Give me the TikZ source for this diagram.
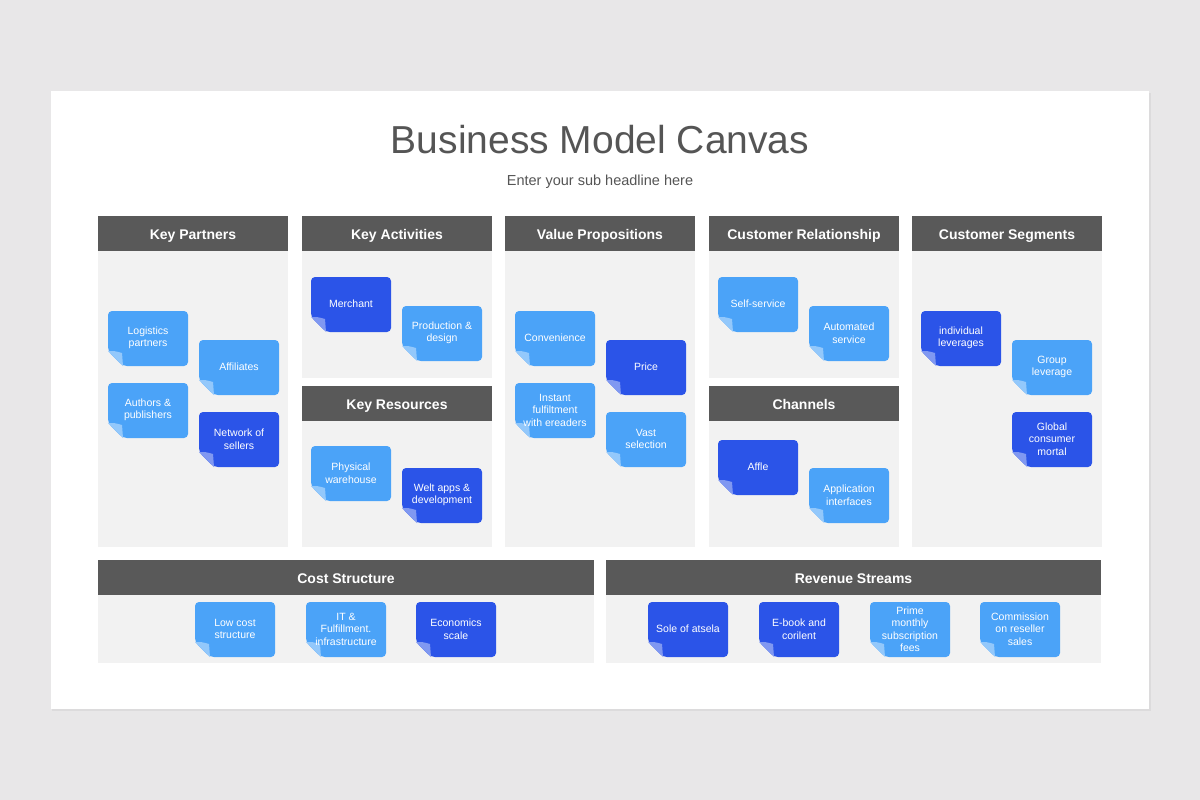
\documentclass[tikz,border=0pt]{standalone}
\usepackage{fontspec}
\setmainfont{Liberation Sans}
\usetikzlibrary{positioning}
\definecolor{pagegray}{HTML}{E8E7E8}
\definecolor{shadowgray}{HTML}{DCDBDC}
\definecolor{headgray}{HTML}{595959}
\definecolor{panelgray}{HTML}{F2F2F2}
\definecolor{titlegray}{HTML}{555555}
\definecolor{lightnote}{HTML}{4BA3F8}
\definecolor{darknote}{HTML}{2B54E8}
\newcommand{\stickynote}[4]{%
	\begin{scope}[shift={(#2)}]
		\fill[#3,rounded corners=4pt] (15,55) -- (80,55) -- (80,0) -- (0,0) -- (0,40) -- cycle;
		\fill[#3!60!white] (0,40) .. controls (7,40) .. (14,42) -- (15,55) -- cycle;
		\node[note] (#1) at (40,27) {#4};
	\end{scope}}

\begin{document}
\begin{tikzpicture}[x=1pt,y=-1pt,
	header/.style={fill=headgray,text=white,font=\fontsize{14}{16}\selectfont\bfseries,minimum width=190pt,minimum height=35pt,text height=12pt,text depth=1pt,inner sep=0pt,outer sep=0pt,anchor=north west},
	panel/.style={fill=panelgray,minimum width=190pt,inner sep=0pt,outer sep=0pt},
	note/.style={text=white,font=\fontsize{10.5}{12.5}\selectfont,align=center,inner sep=0pt}]
	\fill[pagegray] (0,0) rectangle (1200,800);
	\fill[shadowgray] (52,93) rectangle (1151,711);
	\fill[white] (51,91) rectangle (1149,709);
	\node[text=titlegray,font=\fontsize{39}{46}\selectfont] (title) at (600,140) {Business Model Canvas};
	\node[text=titlegray,font=\fontsize{14.5}{17}\selectfont] (subtitle) at (600,182) {Enter your sub headline here};

	\node[header] (kph) at (98,216) {Key Partners};
	\node[header] (kah) at (302,216) {Key Activities};
	\node[header] (vph) at (505,216) {Value Propositions};
	\node[header] (crh) at (709,216) {Customer Relationship};
	\node[header] (csh) at (912,216) {Customer Segments};
	\node[panel,below=0pt of kph,minimum height=296pt] (kp) {};
	\node[panel,below=0pt of kah,minimum height=127pt] (ka) {};
	\node[panel,below=0pt of vph,minimum height=296pt] (vp) {};
	\node[panel,below=0pt of crh,minimum height=127pt] (cr) {};
	\node[panel,below=0pt of csh,minimum height=296pt] (cs) {};
	\node[header] (krh) at (302,386) {Key Resources};
	\node[header] (chh) at (709,386) {Channels};
	\node[panel,below=0pt of krh,minimum height=126pt] (kr) {};
	\node[panel,below=0pt of chh,minimum height=126pt] (ch) {};
	\node[header,minimum width=496pt] (cost) at (98,560) {Cost Structure};
	\node[header,minimum width=495pt] (rev) at (606,560) {Revenue Streams};
	\node[panel,below=0pt of cost,minimum width=496pt,minimum height=68pt] (costp) {};
	\node[panel,below=0pt of rev,minimum width=495pt,minimum height=68pt] (revp) {};

	\stickynote{logistics}{108,311}{lightnote}{Logistics\\partners}
	\stickynote{affiliates}{199,340}{lightnote}{Affiliates}
	\stickynote{authors}{108,383}{lightnote}{Authors \&\\publishers}
	\stickynote{network}{199,412}{darknote}{Network of\\sellers}
	\stickynote{merchant}{311,277}{darknote}{Merchant}
	\stickynote{production}{402,306}{lightnote}{Production \&\\design}
	\stickynote{physical}{311,446}{lightnote}{Physical\\warehouse}
	\stickynote{weltapps}{402,468}{darknote}{Welt apps \&\\development}
	\stickynote{convenience}{515,311}{lightnote}{Convenience}
	\stickynote{price}{606,340}{darknote}{Price}
	\stickynote{instant}{515,383}{lightnote}{Instant\\fulfiltment\\with ereaders}
	\stickynote{vast}{606,412}{lightnote}{Vast\\selection}
	\stickynote{selfservice}{718,277}{lightnote}{Self-service}
	\stickynote{automated}{809,306}{lightnote}{Automated\\service}
	\stickynote{affle}{718,440}{darknote}{Affle}
	\stickynote{application}{809,468}{lightnote}{Application\\interfaces}
	\stickynote{individual}{921,311}{darknote}{individual\\leverages}
	\stickynote{group}{1012,340}{lightnote}{Group\\leverage}
	\stickynote{global}{1012,412}{darknote}{Global\\consumer\\mortal}
	\stickynote{lowcost}{195,602}{lightnote}{Low cost\\structure}
	\stickynote{itfulfil}{306,602}{lightnote}{IT \&\\Fulfillment.\\infrastructure}
	\stickynote{economics}{416,602}{darknote}{Economics\\scale}
	\stickynote{sole}{648,602}{darknote}{Sole of atsela}
	\stickynote{ebook}{759,602}{darknote}{E-book and\\corilent}
	\stickynote{prime}{870,602}{lightnote}{Prime\\monthly\\subscription\\fees}
	\stickynote{commission}{980,602}{lightnote}{Commission\\on reseller\\sales}
\end{tikzpicture}
\end{document}
